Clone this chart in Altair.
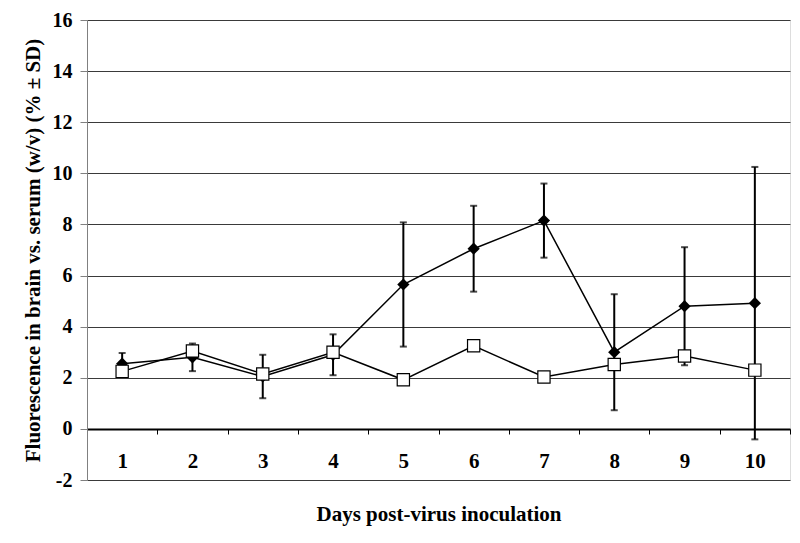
import altair as alt
import pandas as pd

days = ["1", "2", "3", "4", "5", "6", "7", "8", "9", "10"]
infected_mean = [2.55, 2.8, 2.05, 2.9, 5.65, 7.05, 8.15, 3.0, 4.8, 4.92]
infected_sd = [0.42, 0.54, 0.85, 0.8, 2.43, 1.68, 1.45, 2.27, 2.31, 5.33]
control_mean = [2.25, 3.05, 2.15, 3.0, 1.92, 3.25, 2.03, 2.52, 2.85, 2.3]

df = pd.DataFrame({
    "day": days,
    "inf": infected_mean,
    "inf_lo": [m - s for m, s in zip(infected_mean, infected_sd)],
    "inf_hi": [m + s for m, s in zip(infected_mean, infected_sd)],
    "ctl": control_mean,
})

FONT = "Liberation Serif"
Y_TITLE = "Fluorescence in brain vs. serum (w/v) (% \u00b1 SD)"

x_enc = alt.X(
    "day:O",
    sort=days,
    scale=alt.Scale(type="band", paddingInner=0, paddingOuter=0),
    axis=alt.Axis(
        title="Days post-virus inoculation",
        offset=-51,
        domainColor="black",
        domainWidth=2,
        tickColor="black",
        tickSize=5,
        tickWidth=1,
        tickBand="extent",
        labelAngle=0,
        labelFont=FONT,
        labelFontSize=21,
        labelFontWeight="bold",
        labelColor="black",
        labelPadding=16,
        titleFont=FONT,
        titleFontSize=21,
        titleFontWeight="bold",
        titleColor="black",
        titlePadding=32,
        grid=False,
    ),
)


def y_enc(field):
    return alt.Y(
        f"{field}:Q",
        scale=alt.Scale(domain=[-2, 16], nice=False, zero=False),
        axis=alt.Axis(
            title=Y_TITLE,
            values=list(range(-2, 17, 2)),
            labelExpr="'' + datum.value",
            domainColor="#808080",
            tickColor="#808080",
            tickSize=7,
            labelPadding=8,
            labelFont=FONT,
            labelFontSize=20,
            labelFontWeight="bold",
            labelColor="black",
            titleFont=FONT,
            titleFontSize=21,
            titleFontWeight="bold",
            titleColor="black",
            titlePadding=9,
            grid=True,
            gridColor="#3a3a3a",
            gridWidth=1,
        ),
    )


base = alt.Chart(df)

err = base.mark_rule(color="black", strokeWidth=2).encode(
    x=x_enc, y=y_enc("inf_lo"), y2="inf_hi:Q"
)
cap_hi = base.mark_tick(color="black", size=7, thickness=2, orient="horizontal").encode(
    x=x_enc, y=y_enc("inf_hi")
)
cap_lo = base.mark_tick(color="black", size=7, thickness=2, orient="horizontal").encode(
    x=x_enc, y=y_enc("inf_lo")
)
line_inf = base.mark_line(color="black", strokeWidth=1.5).encode(x=x_enc, y=y_enc("inf"))
pts_inf = base.mark_point(
    shape="diamond", size=150, filled=True, color="black", opacity=1
).encode(x=x_enc, y=y_enc("inf"))
line_ctl = base.mark_line(color="black", strokeWidth=1.5).encode(x=x_enc, y=y_enc("ctl"))
pts_ctl = base.mark_point(
    shape="square", size=150, filled=True, fill="white", stroke="black", strokeWidth=1.2, opacity=1
).encode(x=x_enc, y=y_enc("ctl"))

chart = (
    alt.layer(err, cap_hi, cap_lo, line_inf, pts_inf, line_ctl, pts_ctl)
    .properties(
        width=703,
        height=460,
        autosize=alt.AutoSizeParams(type="none"),
        padding={"left": 79, "top": 12, "right": 2, "bottom": 54},
    )
    .configure_view(stroke="#808080", strokeWidth=1.5)
    .configure(background="white")
)

chart.save("out.html", embed_options={"renderer": "svg", "actions": False})
